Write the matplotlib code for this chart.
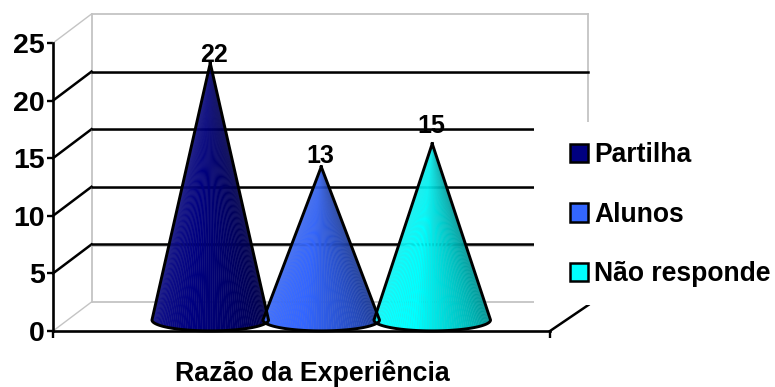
import numpy as np
import matplotlib
matplotlib.use("Agg")
import matplotlib.pyplot as plt
from matplotlib.collections import PolyCollection
from matplotlib.patches import Patch, Rectangle
from matplotlib.transforms import ScaledTranslation

series_names = ['Partilha', 'Alunos', 'Não responde']
series_values = [22, 13, 15]
series_colors = ['#000080', '#3366FF', '#00FFFF']
y_ticks = [0, 5, 10, 15, 20, 25]
x_title = 'Razão da Experiência'

# 3d look, in pixels at dpi 100
DEPTH_X = 38.5
DEPTH_Y = 29
BASE_HALF = 0.525     # cone radius in x units
BASE_MINOR = 0.95     # ellipse half height in y units
BASE_DROP = 0.3       # base centre sits a little in front of the middle
LABEL_NUDGE = [(4, 1), (-1, 4), (-1, 11)]

plt.rcParams['font.family'] = ['Liberation Sans', 'DejaVu Sans']
plt.rcParams['font.weight'] = 'bold'

fig = plt.figure(figsize=(7.75, 3.87), dpi=100)
ax = fig.add_axes([53 / 775, (387 - 331) / 387, (550 - 53) / 775, (331 - 43) / 387])
ax.set_ylim(0, 25)
# one unit is the distance between two cones, about 111 px
ax.set_xlim(-(191 - 53) / 111, (550 - 191) / 111)


def shifted(frac):
    # move something back into the depth of the 3d box
    return ax.transData + ScaledTranslation(DEPTH_X * frac / 100, DEPTH_Y * frac / 100,
                                            fig.dpi_scale_trans)


def shade(color, t):
    rgb = np.array(matplotlib.colors.to_rgb(color))
    if t < 0.4:
        return tuple(rgb + (1 - rgb) * 0.1 * (0.4 - t) / 0.4)
    return tuple(rgb * (1 - 0.5 * (t - 0.4) / 0.6))


x0, x1 = ax.get_xlim()
back = shifted(1)
mid = shifted(0.5)

# back wall and floor
wall = dict(color='#c4c4c4', lw=1.3, zorder=1, clip_on=False)
ax.plot([x0, x0], [0, 25], transform=back, **wall)
ax.plot([x1, x1], [0, 25], transform=back, **wall)
ax.plot([x0, x1], [25, 25], transform=back, **wall)
ax.plot([x0, x1], [0, 0], transform=back, **wall)

for v in y_ticks:
    p0 = ax.transData.transform((x0, v))
    p1 = p0 + (DEPTH_X, DEPTH_Y)
    is_grid = v not in (0, 25)
    ax.plot([p0[0], p1[0]], [p0[1], p1[1]], transform=None, clip_on=False, zorder=2,
            color='black' if is_grid else '#c4c4c4', lw=1.8 if is_grid else 1.0)
    if is_grid:
        ax.plot([x0, x1], [v - 0.1, v - 0.1], transform=back, color='#c0c0c0', lw=1.2, zorder=2, clip_on=False)
        ax.plot([x0, x1], [v, v], transform=back, color='black', lw=1.8, zorder=2, clip_on=False)

# right side of the floor
p0 = ax.transData.transform((x1, 0))
ax.plot([p0[0], p0[0] + DEPTH_X], [p0[1], p0[1] + DEPTH_Y * 0.9], transform=None,
        color='black', lw=1.8, clip_on=False, zorder=2)

# cones, strips leave thin seams like the original gradient
for i, (val, col) in enumerate(zip(series_values, series_colors)):
    ang = np.linspace(np.pi, 2 * np.pi, 71)
    ex = i + BASE_HALF * np.cos(ang)
    ey = BASE_MINOR * np.sin(ang) - BASE_DROP
    # solid underlay so the seams stay subtle
    under = PolyCollection([np.c_[np.r_[i, ex], np.r_[val, ey]]], facecolors=[shade(col, 0.75)],
                           edgecolors='none', alpha=0.7, transform=mid, zorder=3, clip_on=False)
    ax.add_collection(under)
    polys, cols = [], []
    for k in range(len(ang) - 1):
        polys.append([(i, val), (ex[k], ey[k]), (ex[k + 1], ey[k + 1])])
        cols.append(shade(col, (k + 0.5) / (len(ang) - 1)))
    pc = PolyCollection(polys, facecolors=cols, edgecolors='none', transform=mid, zorder=3,
                        antialiaseds=True, clip_on=False)
    ax.add_collection(pc)
    ax.plot(np.r_[i, ex, i], np.r_[val, ey, val], transform=mid, color='black', lw=2.1,
            solid_joinstyle='round', zorder=4, clip_on=False)
    dx, dy = LABEL_NUDGE[i]
    ax.annotate(str(val), (i, val), xycoords=mid, xytext=(dx * 0.72, dy * 0.72),
                textcoords='offset points', ha='center', va='baseline', fontsize=18,
                color='black', zorder=6, annotation_clip=False)

# axis
for side in ('top', 'right'):
    ax.spines[side].set_visible(False)
ax.patch.set_visible(False)
ax.spines['left'].set_linewidth(1.9)
ax.spines['bottom'].set_linewidth(1.9)
ax.spines['left'].set_zorder(5)
ax.spines['bottom'].set_zorder(5)
ax.set_yticks(y_ticks)
ax.tick_params(axis='y', length=4, width=1.7, labelsize=20.5, pad=2)
ax.set_xticks([x0, x1])
ax.set_xticklabels([])
ax.tick_params(axis='x', length=5, width=1.7)

fig.text(312 / 775, 1 - 381 / 387, x_title, ha='center', va='baseline', fontsize=19.3)

# white area behind the legend hides the right end of the walls
ax.add_patch(Rectangle((534 / 775, 1 - 305 / 387), 241 / 775, 183 / 387, transform=fig.transFigure,
                       facecolor='white', edgecolor='none', zorder=2.5, clip_on=False))

handles = [Patch(facecolor=c, edgecolor='black', lw=1.8) for c in series_colors]
leg = ax.legend(handles, series_names, loc='upper left', bbox_to_anchor=(570 / 775, 1 - 142 / 387),
                bbox_transform=fig.transFigure, fontsize=19.1, frameon=False, borderaxespad=0,
                handlelength=0.68, handleheight=0.68, handletextpad=0.22, labelspacing=1.27,
                borderpad=0)
leg.set_zorder(5)

fig.savefig('out.png', dpi=100)
